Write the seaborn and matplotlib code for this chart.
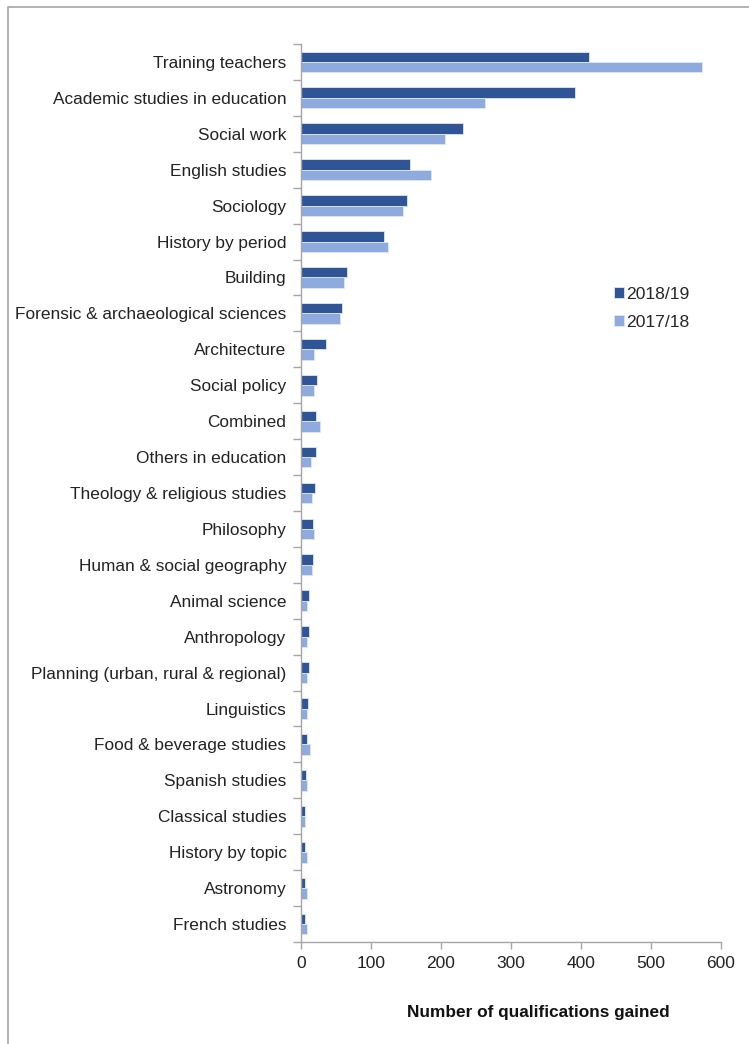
import matplotlib
matplotlib.use("Agg")
import matplotlib.pyplot as plt
from matplotlib.lines import Line2D
from matplotlib.ticker import FixedLocator
import seaborn as sns
import pandas as pd

subjects = [
    "Training teachers", "Academic studies in education", "Social work",
    "English studies", "Sociology", "History by period", "Building",
    "Forensic & archaeological sciences", "Architecture", "Social policy",
    "Combined", "Others in education", "Theology & religious studies",
    "Philosophy", "Human & social geography", "Animal science",
    "Anthropology", "Planning (urban, rural & regional)", "Linguistics",
    "Food & beverage studies", "Spanish studies", "Classical studies",
    "History by topic", "Astronomy", "French studies",
]
gained_2018_19 = [411, 391, 231, 156, 152, 119, 65, 59, 35, 23, 22, 22, 20,
                  17, 17, 11, 11, 11, 10, 9, 7, 6, 6, 6, 6]
gained_2017_18 = [573, 263, 206, 185, 146, 124, 62, 56, 18, 19, 27, 14, 16,
                  19, 16, 8, 8, 8, 8, 13, 8, 5, 8, 8, 9]
years = ["2018/19", "2017/18"]
x_ticks = [0, 100, 200, 300, 400, 500, 600]

df = pd.DataFrame({
    "subject": subjects * 2,
    "year": [years[0]] * len(subjects) + [years[1]] * len(subjects),
    "count": gained_2018_19 + gained_2017_18,
})

sns.set_style("white")
plt.rcParams["font.family"] = ["Liberation Sans", "DejaVu Sans"]

W, H = 749, 1044
fig = plt.figure(figsize=(W / 100, H / 100), dpi=100)
ax = fig.add_axes([301 / W, 1 - 942 / H, 420 / W, 898 / H])

palette = {"2018/19": "#2F5597", "2017/18": "#8FAADC"}
sns.barplot(data=df, y="subject", x="count", hue="year", order=subjects,
            hue_order=years, palette=palette, width=0.58, orient="h",
            saturation=1, edgecolor="#dde6f5", linewidth=0.6, ax=ax)

spine_col = "#A6A6A6"
ax.set_xlim(0, 600)
ax.set_xticks(x_ticks)
ax.set_xticklabels([str(t) for t in x_ticks], fontsize=12.5, color="#222222")
ax.set_ylim(len(subjects) - 0.5, -0.5)
ax.set_yticks(range(len(subjects)))
ax.set_yticklabels(subjects, fontsize=12.4, color="#222222")
ax.yaxis.set_minor_locator(FixedLocator([i - 0.5 for i in range(len(subjects) + 1)]))
ax.tick_params(axis="y", which="major", length=0, pad=10.5)
ax.tick_params(axis="y", which="minor", length=6, width=1, color=spine_col, left=True)
ax.tick_params(axis="x", which="major", length=5, width=1, color=spine_col,
               bottom=True, pad=5)
ax.set_xlabel("")
ax.set_ylabel("")
for side in ("top", "right"):
    ax.spines[side].set_visible(False)
for side in ("left", "bottom"):
    ax.spines[side].set_color(spine_col)
    ax.spines[side].set_linewidth(1)

handles, labels = ax.get_legend_handles_labels()
ax.get_legend().remove()
fig.legend(handles, labels, loc="upper left",
           bbox_to_anchor=(598 / W, 1 - 271 / H), frameon=False, fontsize=12.6,
           handlelength=0.6, handleheight=0.6, handletextpad=0.1,
           labelspacing=0.75)

fig.text(538 / W, 1 - 1012 / H, "Number of qualifications gained",
         ha="center", va="center", fontsize=12.4, fontweight="bold",
         color="#111111")

# outer chart frame (left and top edges)
fig.add_artist(Line2D([8 / W, 8 / W, 1.0], [0.0, 1 - 7 / H, 1 - 7 / H],
                      transform=fig.transFigure, color=spine_col, lw=1.2))

fig.savefig("out.png", dpi=100, facecolor="white")
